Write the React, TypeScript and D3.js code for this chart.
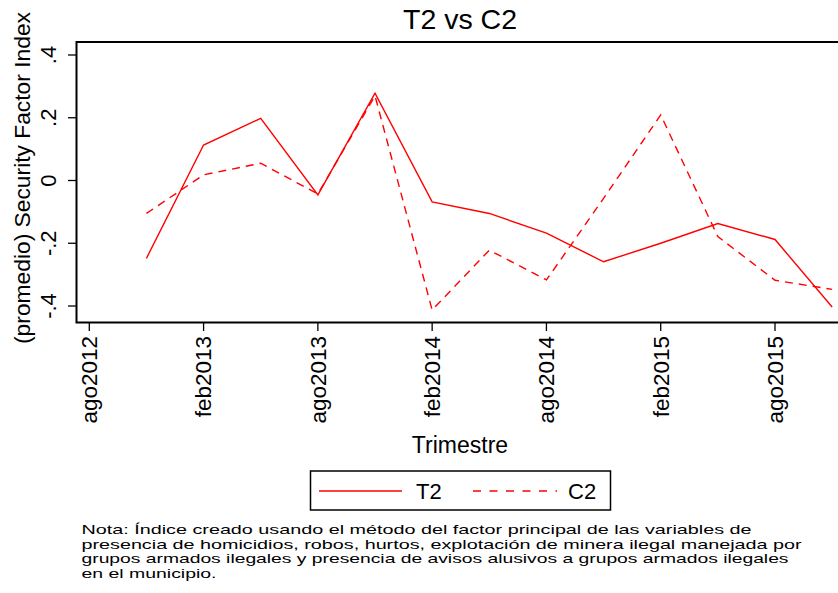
import React from "react";
import * as d3 from "d3";

const quarterMonths = [3, 6, 9, 12, 15, 18, 21, 24, 27, 30, 33, 36, 39];
const seriesT2 = [-0.248, 0.113, 0.198, -0.046, 0.278, -0.068, -0.105, -0.168, -0.259, -0.2, -0.137, -0.188, -0.403];
const seriesC2 = [-0.105, 0.018, 0.055, -0.043, 0.27, -0.413, -0.222, -0.317, -0.057, 0.209, -0.179, -0.318, -0.347];
const xTickMonths = [0, 6, 12, 18, 24, 30, 36];
const xTickLabels = ["ago2012", "feb2013", "ago2013", "feb2014", "ago2014", "feb2015", "ago2015"];
const yTicks = [-0.4, -0.2, 0, 0.2, 0.4];
const yTickLabels = ["-.4", "-.2", "0", ".2", ".4"];
const noteLines = [
  "Nota: Índice creado usando el método del factor principal de las variables de",
  "presencia de homicidios, robos, hurtos, explotación de minera ilegal manejada por",
  "grupos armados ilegales y presencia de avisos alusivos a grupos armados ilegales",
  "en el municipio.",
];
const noteWidths = [670, 720, 707, 135];

const W = 838;
const H = 593;
const FONT = "'Liberation Sans', Arial, sans-serif";

export default function App() {
  const left = 76.5;
  const right = 843.5;
  const top = 42;
  const bottom = 322.5;

  const x = d3.scaleLinear().domain([0, 36]).range([89.3, 775]);
  const y = d3.scaleLinear().domain([-0.4, 0.4]).range([306, 55]);

  const line = d3
    .line<number>()
    .x((_, i) => x(quarterMonths[i]))
    .y((d) => y(d));

  return (
    <svg width={W} height={H} style={{ position: "absolute", left: 0, top: 0, background: "#fff" }} fontFamily={FONT}>
      <rect x={0} y={0} width={W} height={H} fill="#fff" />
      <text x={460} y={28.5} textAnchor="middle" fontSize={28.5} fill="#000">T2 vs C2</text>

      {/* plot frame */}
      <path d={`M${right},${top} H${left} V${bottom} H${right}`} fill="none" stroke="#000" strokeWidth={2} />
      <path d={`M${right},${top} V${bottom}`} fill="none" stroke="#000" strokeWidth={2} />

      {/* y axis */}
      {yTicks.map((t, i) => (
        <g key={"y" + i}>
          <line x1={68} x2={left} y1={y(t)} y2={y(t)} stroke="#000" strokeWidth={1.3} />
          <text
            transform={`translate(56,${y(t)}) rotate(-90)`}
            textAnchor="middle"
            fontSize={22}
            fill="#000"
          >
            {yTickLabels[i]}
          </text>
        </g>
      ))}
      <text transform={`translate(30,178) rotate(-90)`} textAnchor="middle" fontSize={22.8} fill="#000">
        (promedio) Security Factor Index
      </text>

      {/* x axis */}
      {xTickMonths.map((m, i) => (
        <g key={"x" + i}>
          <line x1={x(m)} x2={x(m)} y1={bottom} y2={331} stroke="#000" strokeWidth={1.3} />
          <text
            transform={`translate(${x(m)},336) rotate(-90)`}
            textAnchor="end"
            dy="0.35em"
            fontSize={22.5}
            fill="#000"
          >
            {xTickLabels[i]}
          </text>
        </g>
      ))}
      <text x={460} y={453} textAnchor="middle" fontSize={23} fill="#000">Trimestre</text>

      {/* series */}
      <path d={line(seriesT2) || ""} fill="none" stroke="#ff0000" strokeWidth={1.4} />
      <path d={line(seriesC2) || ""} fill="none" stroke="#ff0000" strokeWidth={1.4} strokeDasharray="8,6" />

      {/* legend */}
      <rect x={310.5} y={471} width={300} height={39} fill="#fff" stroke="#000" strokeWidth={1.5} />
      <line x1={319} x2={402} y1={491} y2={491} stroke="#ff0000" strokeWidth={1.4} />
      <text x={416} y={499} fontSize={22} fill="#000">T2</text>
      <line x1={473} x2={557} y1={491} y2={491} stroke="#ff0000" strokeWidth={1.4} strokeDasharray="8,8.5" />
      <text x={568} y={499} fontSize={22} fill="#000">C2</text>

      {/* note */}
      {noteLines.map((l, i) => (
        <text
          key={"n" + i}
          x={81.5}
          y={534 + i * 14.6}
          fontSize={13}
          fill="#000"
          textLength={noteWidths[i]}
          lengthAdjust="spacingAndGlyphs"
        >
          {l}
        </text>
      ))}
    </svg>
  );
}
